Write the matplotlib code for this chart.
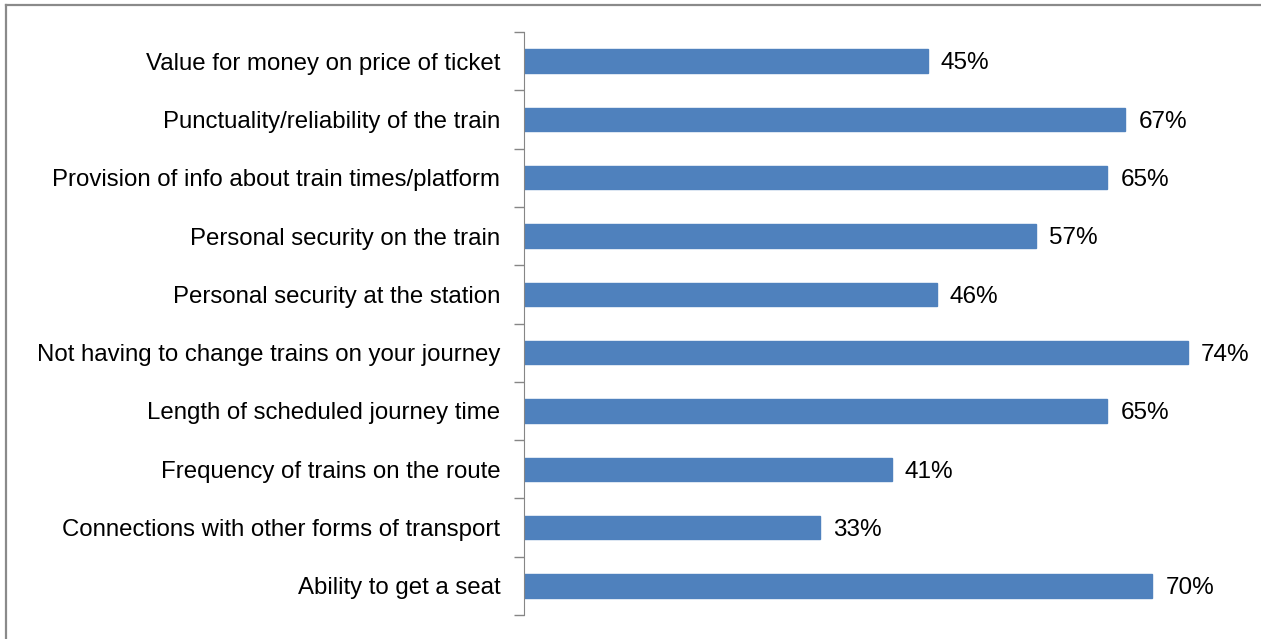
import matplotlib.pyplot as plt
from matplotlib.lines import Line2D

categories = [
    "Value for money on price of ticket",
    "Punctuality/reliability of the train",
    "Provision of info about train times/platform",
    "Personal security on the train",
    "Personal security at the station",
    "Not having to change trains on your journey",
    "Length of scheduled journey time",
    "Frequency of trains on the route",
    "Connections with other forms of transport",
    "Ability to get a seat",
]
values = [45, 67, 65, 57, 46, 74, 65, 41, 33, 70]

plt.rcParams['font.family'] = ['Liberation Sans', 'DejaVu Sans']

W, H = 1261, 639
fig = plt.figure(figsize=(W / 100, H / 100), dpi=100)
ax = fig.add_axes([524 / W, 1 - 615 / H, (1242 - 524) / W, (615 - 32) / H])

pos = list(range(len(categories)))
ax.barh(pos, values, height=0.4, color='#4f81bd', edgecolor='#4f81bd')
for p, v in zip(pos, values):
    ax.text(v + 1.45, p + 0.04, f"{v}%", va='center', ha='left', fontsize=17.5)

ax.set_xlim(0, 80)
ax.set_ylim(len(categories) - 0.5, -0.5)
ax.set_yticks(pos)
ax.set_yticklabels(categories, fontsize=17.3)
ax.tick_params(axis='y', length=0, pad=17)
# small tick marks sit between the categories
ax.set_yticks([p - 0.5 for p in pos] + [len(pos) - 0.5], minor=True)
ax.tick_params(axis='y', which='minor', length=7, color='#868686', width=1)
ax.set_xticks([])
for s in ['top', 'right', 'bottom']:
    ax.spines[s].set_visible(False)
ax.spines['left'].set_color('#868686')

# chart frame along top and left edges
fig.add_artist(Line2D([5.5 / W, 1], [1 - 4.5 / H, 1 - 4.5 / H], color='#8a8a8a', lw=1.6))
fig.add_artist(Line2D([5.5 / W, 5.5 / W], [0, 1 - 4.5 / H], color='#8a8a8a', lw=1.6))

fig.savefig('out.png', dpi=100)
